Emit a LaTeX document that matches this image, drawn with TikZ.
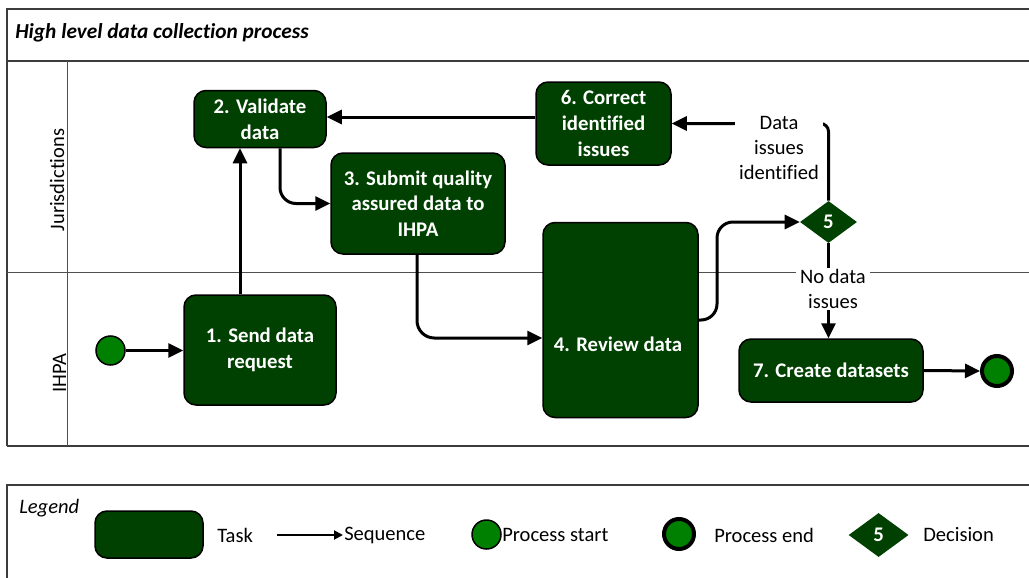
\documentclass[tikz,border=0pt]{standalone}
\usepackage{fontspec}
\setmainfont{Carlito}[Ligatures=CommonOff]
\usetikzlibrary{arrows.meta,shapes.geometric,calc}
\newdimen\pxu \pxu=0.75pt
\definecolor{taskgreen}{RGB}{0,64,0}
\definecolor{startgreen}{RGB}{0,128,0}
\definecolor{framegray}{RGB}{60,60,60}
\definecolor{lanegray}{RGB}{80,80,80}
\newcommand\boxfont{\fontsize{15.6}{19.2}\selectfont\bfseries}
\newcommand\lblfont{\fontsize{15.4}{18.6}\selectfont}
\tikzset{
  task/.style={draw=black, line width=1.5\pxu, fill=taskgreen, rounded corners=9pt,
    text=white, font=\boxfont, align=center, inner sep=0pt},
  flow/.style={line width=2.25pt, draw=black, -{Triangle[length=11.25pt,width=10.5pt]}},
  flowsmall/.style={line width=1.5pt, draw=black, -{Triangle[length=6.75pt,width=6.75pt]}},
  decision/.style={shape=diamond, fill=taskgreen, draw=none, inner sep=0pt,
    text=white, font=\boxfont},
  startev/.style={circle, fill=startgreen, draw=black, line width=1.5\pxu, inner sep=0pt},
  endev/.style={circle, fill=startgreen, draw=black, line width=4\pxu, inner sep=0pt},
  lbl/.style={font=\lblfont, align=center, inner sep=1\pxu},
  flowlabel/.style={lbl, fill=white, inner xsep=4\pxu},
  frameline/.style={draw=framegray, line width=2\pxu},
  laneline/.style={draw=lanegray, line width=1.3\pxu},
}
\begin{document}
\begin{tikzpicture}[x=0.75pt,y=-0.75pt]
\useasboundingbox (0,0) rectangle (1029,578);
% frame
\draw[frameline] (7,446) -- (7,9) -- (1029,9);
\draw[frameline] (7,61) -- (1029,61);
\draw[frameline] (7,446) -- (1029,446);
\draw[laneline] (7,272.5) -- (1029,272.5);
\draw[laneline] (67.5,61) -- (67.5,446);
\node[font=\fontsize{16}{19}\selectfont\bfseries\itshape, anchor=west, inner sep=0pt] (title) at (15,33) {High level data collection process};
\node[lbl, rotate=90] (laneJ) at (57,180) {Jurisdictions};
\node[lbl, rotate=90] (laneI) at (59.5,373) {IHPA};
% tasks
\node[task, minimum width=132\pxu, minimum height=57\pxu] (b2) at (260,119) {2. Validate\\data};
\node[task, minimum width=174\pxu, minimum height=101\pxu] (b3) at (418,203.5) {3. Submit quality\\assured data to\\IHPA};
\node[task, minimum width=135\pxu, minimum height=83\pxu] (b6) at (603.5,123.5) {6. Correct\\identified\\issues};
\node[task, minimum width=152\pxu, minimum height=110\pxu] (b1) at (260,350) {1. Send data\\request};
\node[task, minimum width=155\pxu, minimum height=195\pxu] (b4) at (620.5,320) {};
\node[font=\boxfont, text=white, inner sep=0pt] (b4t) at (618,344) {4. Review data};
\node[task, minimum width=184\pxu, minimum height=63\pxu] (b7) at (831,370.5) {7. Create datasets};
\node[decision, minimum width=57\pxu, minimum height=42\pxu] (d5) at (828.5,222) {5};
\node[startev, minimum size=29\pxu] (start) at (110.5,350.5) {};
\node[endev, minimum size=30\pxu] (end) at (997,371) {};
% connectors
\coordinate (x240) at (240,0);
\coordinate (x280) at (280,0);
\coordinate (p34) at (417,338);
\coordinate (x717) at (717,0);
\coordinate (y117) at (0,117);
\draw[flow] (start) -- (start -| b1.west);
\draw[flow] (x240 |- b1.north) -- (x240 |- b2.south);
\draw[flow, rounded corners=12pt] (x280 |- b2.south) |- (b3.west);
\draw[flow, rounded corners=13pt] (p34 |- b3.south) |- (b4.west |- p34);
\draw[flow, rounded corners=12pt] (b4.east) -| (x717 |- d5.west) -- (d5.west);
\draw[flow, rounded corners=6pt] (d5.north) |- (b6.east);
\node[flowlabel] (lab1) at (779,148) {Data\\issues\\identified};
\draw[flow] (b6.west |- y117) -- (b2.east |- y117);
\draw[flow] (d5.south) -- (d5.south |- b7.north);
\node[flowlabel] (lab2) at (833,289) {No data\\issues};
\draw[flow] (b7.east) -- (end.west);
% legend
\draw[frameline] (7,578) -- (7,485) -- (1029,485);
\node[font=\lblfont\itshape, anchor=west, inner sep=0pt] (legt) at (19,508) {Legend};
\node[task, minimum width=108\pxu, minimum height=47\pxu] (lt) at (149,534.5) {};
\node[lbl, anchor=west, inner sep=0pt] (ltt) at (217,535) {Task};
\coordinate (la1) at (277,535);
\coordinate (la2) at (343,535);
\draw[flowsmall] (la1) -- (la2);
\node[lbl, anchor=west, inner sep=0pt] (lst) at (344,535) {Sequence};
\node[startev, minimum size=29\pxu] (ls) at (486.5,534.5) {};
\node[lbl, anchor=west, inner sep=0pt] (lstt) at (502,535) {Process start};
\node[endev, minimum size=30\pxu] (le) at (679,534) {};
\node[lbl, anchor=west, inner sep=0pt] (let) at (714,535) {Process end};
\node[decision, minimum width=60\pxu, minimum height=44\pxu] (ld) at (878.6,535) {5};
\node[lbl, anchor=west, inner sep=0pt] (ldt) at (923,535) {Decision};
\end{tikzpicture}
\end{document}
